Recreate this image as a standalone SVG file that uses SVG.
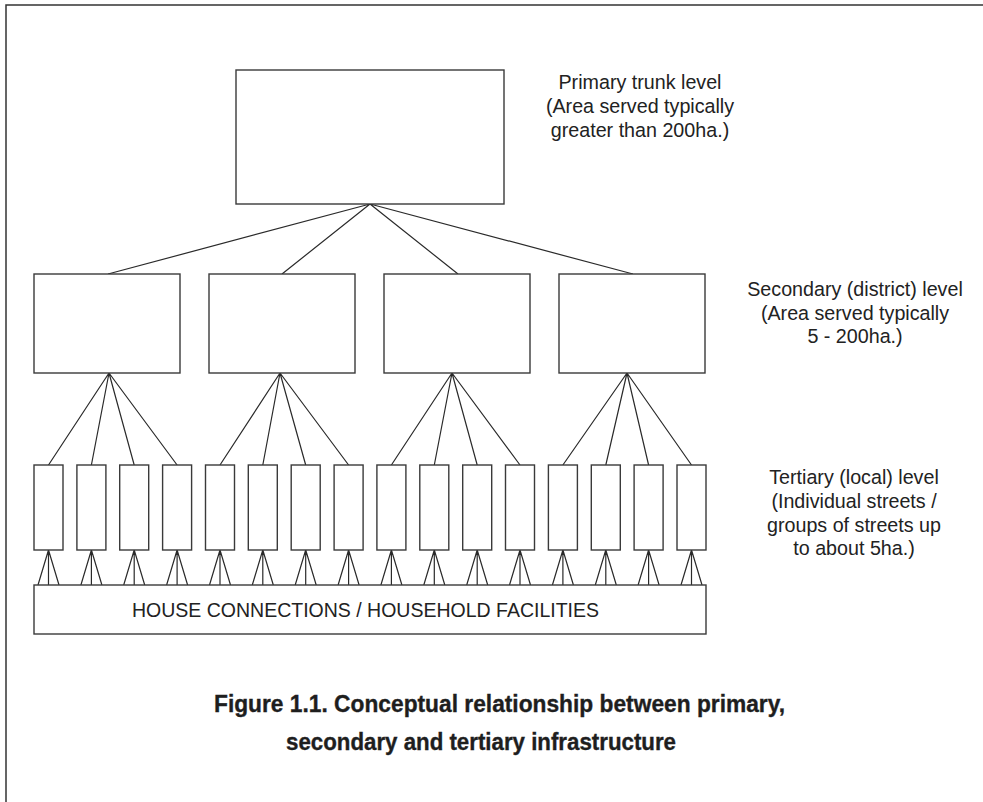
<svg xmlns="http://www.w3.org/2000/svg" width="983" height="802" viewBox="0 0 983 802">
<style>
.frame{fill:none;stroke:#333;stroke-width:1.5}
.box{fill:#fff;stroke:#3a3a3a;stroke-width:1.4}
.conn{fill:none;stroke:#2a2a2a;stroke-width:1.2}
.lbl{font-family:"Liberation Sans",Arial,sans-serif;font-size:19.7px;fill:#222;text-anchor:middle}
.cap{font-family:"Liberation Sans Narrow","Liberation Sans",Arial,sans-serif;font-size:23.5px;font-weight:bold;fill:#1e1e1e;stroke:#1e1e1e;stroke-width:0.35}
</style>
<rect width="983" height="802" fill="#fff"/>
<path class="frame" d="M6,802 V5 H983"/>
<g id="connectors">
<path class="conn" d="M370,204 L108,274 M370,204 L282,274 M370,204 L458,274 M370,204 L633,274"/>
<path class="conn" d="M109,373 L48.5,465 M109,373 L91.4,465 M109,373 L134.2,465 M109,373 L177.1,465"/>
<path class="conn" d="M280,373 L220,465 M280,373 L262.8,465 M280,373 L305.7,465 M280,373 L348.6,465"/>
<path class="conn" d="M452,373 L391.4,465 M452,373 L434.3,465 M452,373 L477.2,465 M452,373 L520,465"/>
<path class="conn" d="M627,373 L562.9,465 M627,373 L605.8,465 M627,373 L648.6,465 M627,373 L691.5,465"/>
<path class="conn" d="M48.5,550 l-10.5,35 M48.5,550 v35 M48.5,550 l10.5,35
M91.4,550 l-10.5,35 M91.4,550 v35 M91.4,550 l10.5,35
M134.2,550 l-10.5,35 M134.2,550 v35 M134.2,550 l10.5,35
M177.1,550 l-10.5,35 M177.1,550 v35 M177.1,550 l10.5,35
M220,550 l-10.5,35 M220,550 v35 M220,550 l10.5,35
M262.8,550 l-10.5,35 M262.8,550 v35 M262.8,550 l10.5,35
M305.7,550 l-10.5,35 M305.7,550 v35 M305.7,550 l10.5,35
M348.6,550 l-10.5,35 M348.6,550 v35 M348.6,550 l10.5,35
M391.4,550 l-10.5,35 M391.4,550 v35 M391.4,550 l10.5,35
M434.3,550 l-10.5,35 M434.3,550 v35 M434.3,550 l10.5,35
M477.2,550 l-10.5,35 M477.2,550 v35 M477.2,550 l10.5,35
M520,550 l-10.5,35 M520,550 v35 M520,550 l10.5,35
M562.9,550 l-10.5,35 M562.9,550 v35 M562.9,550 l10.5,35
M605.8,550 l-10.5,35 M605.8,550 v35 M605.8,550 l10.5,35
M648.6,550 l-10.5,35 M648.6,550 v35 M648.6,550 l10.5,35
M691.5,550 l-10.5,35 M691.5,550 v35 M691.5,550 l10.5,35"/>
</g>
<g id="primary"><rect class="box" x="236" y="70" width="268" height="134"/></g>
<g id="secondary-1"><rect class="box" x="34" y="274" width="146" height="99"/></g>
<g id="secondary-2"><rect class="box" x="209" y="274" width="146" height="99"/></g>
<g id="secondary-3"><rect class="box" x="384" y="274" width="146" height="99"/></g>
<g id="secondary-4"><rect class="box" x="559" y="274" width="146" height="99"/></g>
<g id="tertiary-1"><rect class="box" x="34" y="465" width="29" height="85"/></g>
<g id="tertiary-2"><rect class="box" x="76.9" y="465" width="29" height="85"/></g>
<g id="tertiary-3"><rect class="box" x="119.7" y="465" width="29" height="85"/></g>
<g id="tertiary-4"><rect class="box" x="162.6" y="465" width="29" height="85"/></g>
<g id="tertiary-5"><rect class="box" x="205.5" y="465" width="29" height="85"/></g>
<g id="tertiary-6"><rect class="box" x="248.3" y="465" width="29" height="85"/></g>
<g id="tertiary-7"><rect class="box" x="291.2" y="465" width="29" height="85"/></g>
<g id="tertiary-8"><rect class="box" x="334.1" y="465" width="29" height="85"/></g>
<g id="tertiary-9"><rect class="box" x="376.9" y="465" width="29" height="85"/></g>
<g id="tertiary-10"><rect class="box" x="419.8" y="465" width="29" height="85"/></g>
<g id="tertiary-11"><rect class="box" x="462.7" y="465" width="29" height="85"/></g>
<g id="tertiary-12"><rect class="box" x="505.5" y="465" width="29" height="85"/></g>
<g id="tertiary-13"><rect class="box" x="548.4" y="465" width="29" height="85"/></g>
<g id="tertiary-14"><rect class="box" x="591.3" y="465" width="29" height="85"/></g>
<g id="tertiary-15"><rect class="box" x="634.1" y="465" width="29" height="85"/></g>
<g id="tertiary-16"><rect class="box" x="677" y="465" width="29" height="85"/></g>
<g id="house">
<rect class="box" x="34" y="585" width="672" height="49"/>
<text class="lbl" x="365.5" y="617" style="font-size:19.5px">HOUSE CONNECTIONS / HOUSEHOLD FACILITIES</text>
</g>
<g id="label-primary">
<text class="lbl" x="640" y="89">Primary trunk level</text>
<text class="lbl" x="640" y="113">(Area served typically</text>
<text class="lbl" x="640" y="137">greater than 200ha.)</text>
</g>
<g id="label-secondary">
<text class="lbl" x="855" y="296">Secondary (district) level</text>
<text class="lbl" x="855" y="319.5">(Area served typically</text>
<text class="lbl" x="855" y="343">5 - 200ha.)</text>
</g>
<g id="label-tertiary">
<text class="lbl" x="854" y="484">Tertiary (local) level</text>
<text class="lbl" x="854" y="508">(Individual streets /</text>
<text class="lbl" x="854" y="531.5">groups of streets up</text>
<text class="lbl" x="854" y="555">to about 5ha.)</text>
</g>
<g id="caption">
<text class="cap" x="214" y="712" textLength="571" lengthAdjust="spacingAndGlyphs">Figure 1.1. Conceptual relationship between primary,</text>
<text class="cap" x="286" y="750" textLength="390" lengthAdjust="spacingAndGlyphs">secondary and tertiary infrastructure</text>
</g>
</svg>
